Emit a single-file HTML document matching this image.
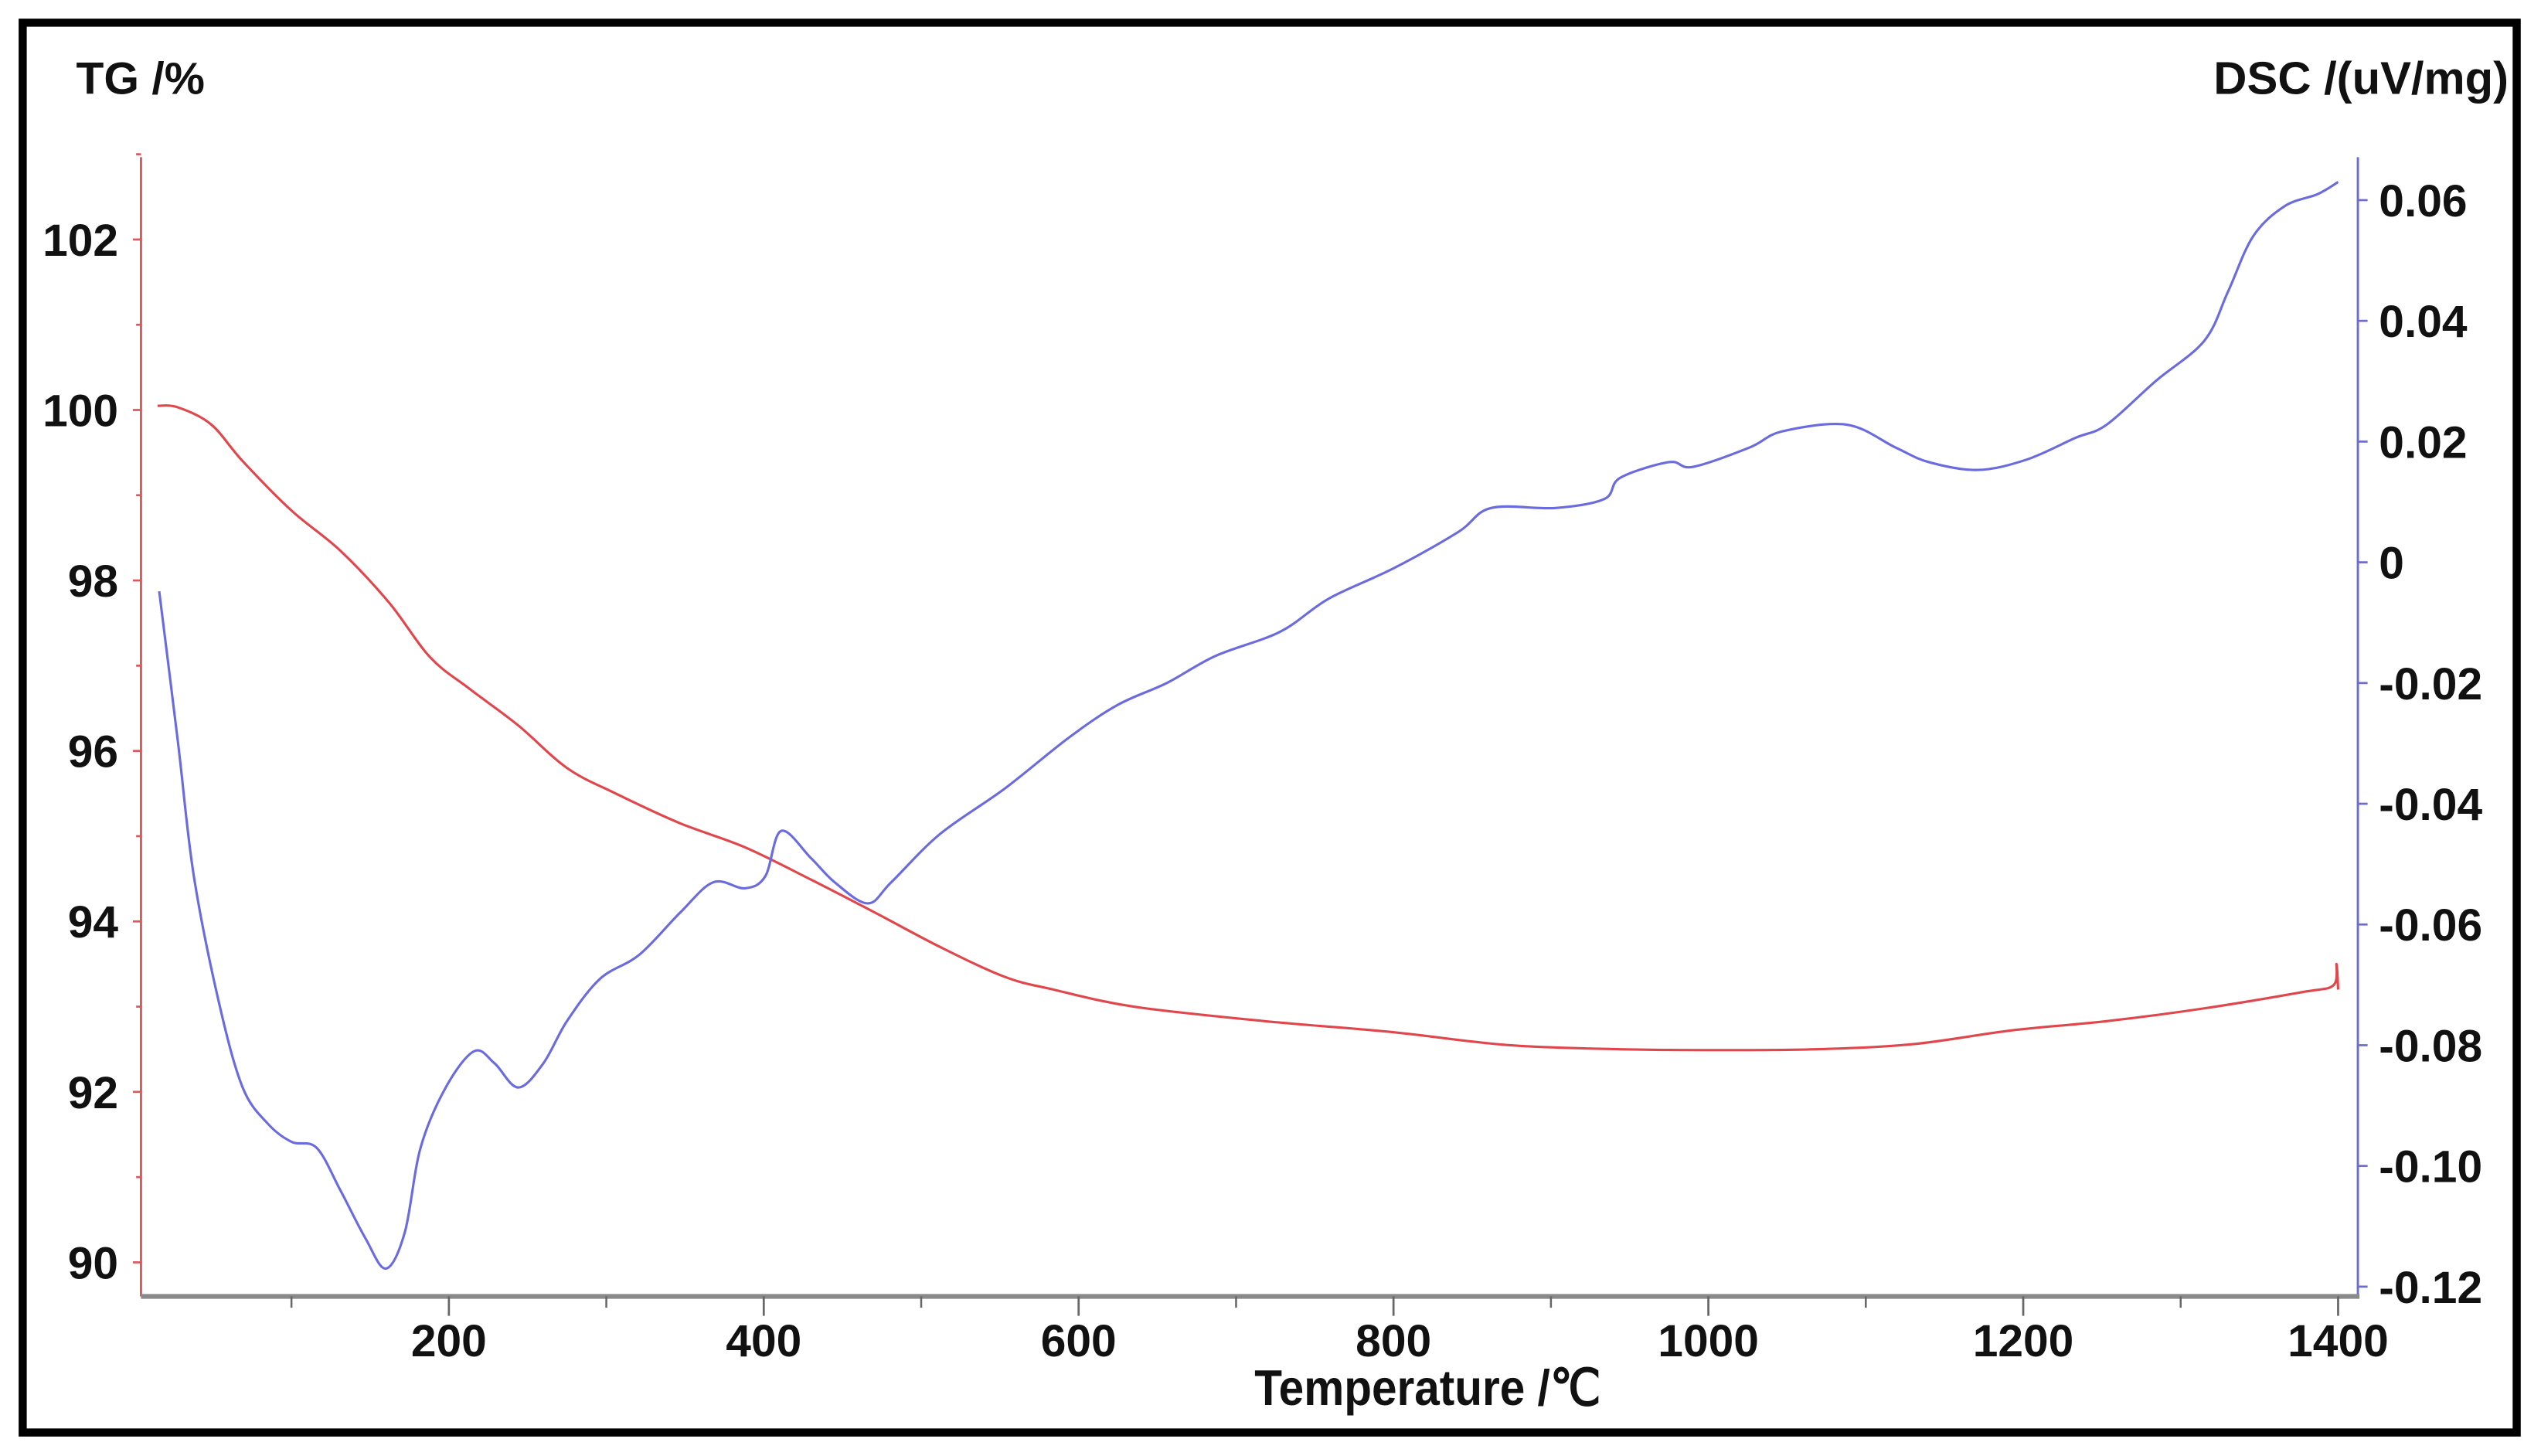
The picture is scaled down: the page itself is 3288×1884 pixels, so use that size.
<!DOCTYPE html>
<html><head><meta charset="utf-8"><style>
html,body{margin:0;padding:0;background:#fff;}
svg{display:block;}
text{font-family:"Liberation Sans",Arial,sans-serif;font-weight:bold;fill:#111;}
</style></head><body>
<svg id="chart" width="3288" height="1884" viewBox="0 0 1568 898.5" preserveAspectRatio="none" xmlns="http://www.w3.org/2000/svg">
<rect x="14" y="14" width="1539" height="870" fill="#fff" stroke="#000" stroke-width="5"/>
<g id="axes"></g>
<g id="series"></g>
<text x="47" y="58" font-size="28">TG /%</text>
<text x="1548" y="58" font-size="28.5" text-anchor="end">DSC /(uV/mg)</text>
<text x="881" y="867" font-size="31" text-anchor="middle" transform="translate(881 0) scale(0.9 1) translate(-881 0)">Temperature /℃</text>
</svg>
<script>
const temps_tg = [15,28,49,69,100,131,162,188,213,244,275,306,347,388,430,471,512,553,584,635,718,800,872,944,1006,1068,1130,1192,1253,1315,1377,1397,1399,1400];
const tg_values = [100.05,100.03,99.83,99.4,98.82,98.35,97.74,97.1,96.73,96.3,95.8,95.5,95.15,94.87,94.49,94.1,93.7,93.35,93.2,93.0,92.83,92.7,92.55,92.5,92.49,92.5,92.56,92.72,92.83,92.98,93.17,93.25,93.5,93.2];
const temps_dsc = [16,28,38,54,69,85,100,116,131,147,160,172,182,198,216,229,244,260,275,296,321,347,368,388,401,411,430,445,466,481,512,553,594,625,656,687,728,759,800,841,862,903,934,944,975,990,1026,1047,1088,1119,1140,1171,1202,1233,1253,1284,1315,1330,1346,1366,1387,1400];
const dsc_values = [-0.0048,-0.030,-0.052,-0.073,-0.087,-0.093,-0.096,-0.097,-0.104,-0.112,-0.117,-0.111,-0.097,-0.087,-0.081,-0.083,-0.087,-0.083,-0.076,-0.069,-0.065,-0.058,-0.053,-0.054,-0.052,-0.0445,-0.049,-0.053,-0.0565,-0.053,-0.045,-0.0375,-0.029,-0.0236,-0.020,-0.0155,-0.0115,-0.006,-0.001,0.005,0.009,0.009,0.0105,0.014,0.0166,0.0158,0.019,0.0217,0.0228,0.019,0.0166,0.0153,0.017,0.0206,0.0228,0.030,0.0367,0.0448,0.054,0.059,0.061,0.063];
const x_ticks = [200,400,600,800,1000,1200,1400];
const x_minor = [100,300,500,700,900,1100,1300];
const tg_ticks = [90,92,94,96,98,100,102];
const dsc_ticks = [0.06,0.04,0.02,0,-0.02,-0.04,-0.06,-0.08,-0.10,-0.12];
const dsc_labels = ["0.06","0.04","0.02","0","-0.02","-0.04","-0.06","-0.08","-0.10","-0.12"];

const NS="http://www.w3.org/2000/svg";
const xS = t => 82.7 + t*0.9715;
const yTG = v => 253 - (v-100)*52.6;
const yDSC = v => 347 - v/0.02*74.5;
const axes=document.getElementById('axes'), series=document.getElementById('series');
function mk(tag,attrs,parent){const e=document.createElementNS(NS,tag);for(const k in attrs)e.setAttribute(k,attrs[k]);parent.appendChild(e);return e;}
function smooth(pts){
  let d='M'+pts[0][0]+','+pts[0][1];
  for(let i=0;i<pts.length-1;i++){
    const p0=pts[Math.max(0,i-1)],p1=pts[i],p2=pts[i+1],p3=pts[Math.min(pts.length-1,i+2)];
    const c1x=p1[0]+(p2[0]-p0[0])/6,c1y=p1[1]+(p2[1]-p0[1])/6;
    const c2x=p2[0]-(p3[0]-p1[0])/6,c2y=p2[1]-(p3[1]-p1[1])/6;
    d+=' C'+c1x+','+c1y+' '+c2x+','+c2y+' '+p2[0]+','+p2[1];
  }
  return d;
}

let e;
e=mk('line',{x1:87,y1:97,x2:87,y2:800,stroke:'#d9595d','stroke-width':1.4},axes);


e=mk('line',{x1:1455,y1:97,x2:1455,y2:800,stroke:'#6d6dd0','stroke-width':1.4},axes);


e=mk('line',{x1:87,y1:800,x2:1456,y2:800,stroke:'#8a8a8a','stroke-width':3},axes);



x_ticks.forEach(t=>{
  e=mk('line',{x1:xS(t),y1:800,x2:xS(t),y2:812,stroke:'#666','stroke-width':1.3},axes);
  
  
  e=mk('text',{x:xS(t),y:837,'font-size':28,'text-anchor':'middle'},axes);
  e.textContent=t;
  
  
});
x_minor.forEach(t=>{
  e=mk('line',{x1:xS(t),y1:800,x2:xS(t),y2:807,stroke:'#666','stroke-width':1.2},axes);
  
  
});
tg_ticks.forEach(v=>{
  e=mk('line',{x1:82,y1:yTG(v),x2:87,y2:yTG(v),stroke:'#d9595d','stroke-width':1.3},axes);
  
  
  e=mk('line',{x1:84,y1:yTG(v+1),x2:87,y2:yTG(v+1),stroke:'#d9595d','stroke-width':1.3},axes);
  
  
  e=mk('text',{x:73,y:yTG(v)+10,'font-size':28,'text-anchor':'end'},axes);
  e.textContent=v;
  
  
});
dsc_ticks.forEach((v,i)=>{
  e=mk('line',{x1:1455,y1:yDSC(v),x2:1461,y2:yDSC(v),stroke:'#6d6dd0','stroke-width':1.3},axes);
  
  
  e=mk('text',{x:1468,y:yDSC(v)+10,'font-size':28},axes);
  e.textContent=dsc_labels[i];
  
  
});

e=mk('path',{d:smooth(temps_tg.map((t,i)=>[xS(t),yTG(tg_values[i])])),fill:'none',stroke:'#e0474c','stroke-width':1.5,'stroke-linejoin':'round'},series);


e=mk('path',{d:smooth(temps_dsc.map((t,i)=>[xS(t),yDSC(dsc_values[i])])),fill:'none',stroke:'#6b6be0','stroke-width':1.5,'stroke-linejoin':'round'},series);


</script>
</body></html>
